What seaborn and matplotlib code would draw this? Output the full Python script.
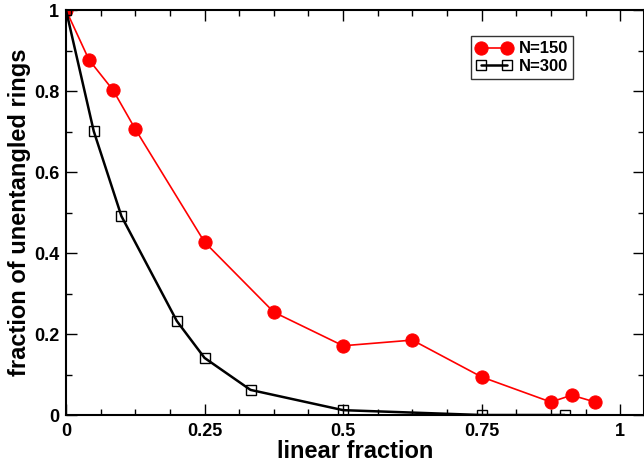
import matplotlib
matplotlib.use("Agg")
import matplotlib.pyplot as plt
import seaborn as sns
import pandas as pd
from matplotlib.ticker import MultipleLocator

x150 = [0.0, 0.0415, 0.085, 0.125, 0.25, 0.375, 0.5, 0.625, 0.75, 0.875, 0.9125, 0.955]
y150 = [1.0, 0.877, 0.802, 0.706, 0.427, 0.254, 0.171, 0.185, 0.094, 0.032, 0.049, 0.032]
x300 = [0.0, 0.05, 0.1, 0.2, 0.25, 0.333, 0.5, 0.75, 0.9]
y300 = [1.0, 0.701, 0.491, 0.232, 0.141, 0.062, 0.012, 0.0, 0.0]
labels = ["N=150", "N=300"]

sns.set_style("ticks")
plt.rcParams['font.family'] = ['Liberation Sans', 'DejaVu Sans']
plt.rcParams['font.weight'] = 'bold'
plt.rcParams['text.color'] = 'black'
plt.rcParams['axes.labelcolor'] = 'black'
plt.rcParams['xtick.color'] = 'black'
plt.rcParams['ytick.color'] = 'black'

fig = plt.figure(figsize=(6.44, 4.66), dpi=100)
ax = fig.add_axes([0.1025, 0.1094, 0.8975, 0.8691])

d150 = pd.DataFrame({"x": x150, "y": y150})
d300 = pd.DataFrame({"x": x300, "y": y300})

sns.lineplot(data=d150, x="x", y="y", ax=ax, color="#ff0000", lw=1.2,
             marker="o", markersize=9.5, markeredgecolor="#ff0000",
             markerfacecolor="#ff0000", label=labels[0], estimator=None, sort=False)
sns.lineplot(data=d300, x="x", y="y", ax=ax, color="black", lw=1.8,
             marker="s", markersize=7.5, markeredgecolor="black", markeredgewidth=1.0,
             markerfacecolor="none", label=labels[1], estimator=None, sort=False)

ax.set_xlim(0, 1.043)
ax.set_ylim(0, 1)
ax.xaxis.set_minor_locator(MultipleLocator(0.0625))
ax.yaxis.set_minor_locator(MultipleLocator(0.1))
ax.set_xticks([0, 0.25, 0.5, 0.75, 1.0])
ax.set_xticklabels(["0", "0.25", "0.5", "0.75", "1"])
ax.set_yticks([0, 0.2, 0.4, 0.6, 0.8, 1.0])
ax.set_yticklabels(["0", "0.2", "0.4", "0.6", "0.8", "1"])
ax.tick_params(which="both", direction="in", top=True, right=True, width=1.0, color="black")
ax.tick_params(which="major", length=8, labelsize=13)
ax.tick_params(axis="x", which="major", pad=6)
ax.tick_params(axis="y", which="major", pad=5)
ax.tick_params(which="minor", length=4)
for lab in ax.get_xticklabels() + ax.get_yticklabels():
    lab.set_fontweight("bold")
for s in ax.spines.values():
    s.set_color("black")
    s.set_linewidth(1.5)

ax.set_xlabel("linear fraction", fontsize=17, fontweight="bold", labelpad=0)
ax.set_ylabel("fraction of unentangled rings", fontsize=17, fontweight="bold", labelpad=2)

leg = ax.legend(loc="upper left", bbox_to_anchor=(0.7, 0.935), frameon=True, fancybox=False,
                edgecolor="black", prop={"weight": "bold", "size": 12},
                numpoints=2, handlelength=2.2, handletextpad=0.4, borderpad=0.3,
                labelspacing=0.15, borderaxespad=0)
leg.get_frame().set_linewidth(1.0)

fig.savefig("out.png", dpi=100)
